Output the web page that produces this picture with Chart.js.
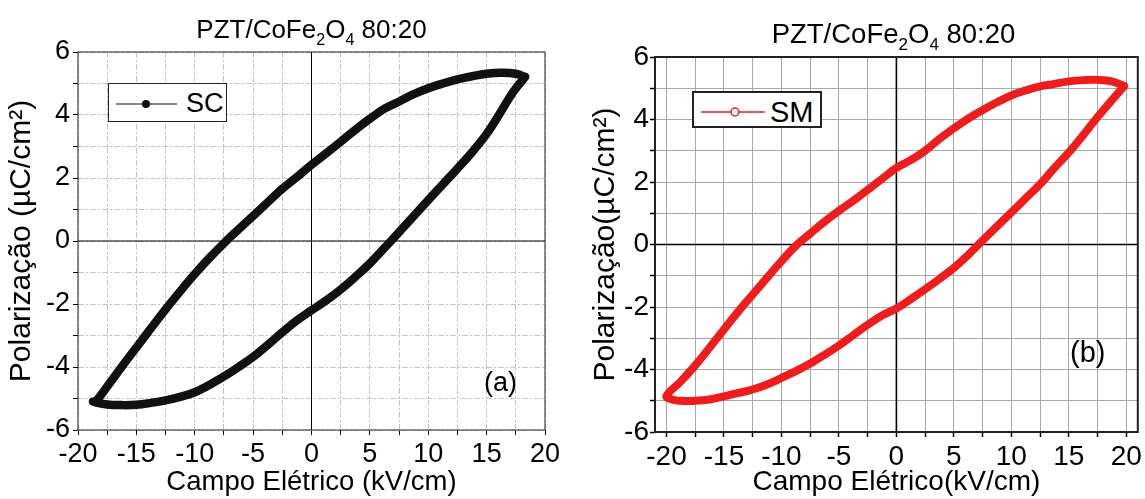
<!DOCTYPE html>
<html>
<head>
<meta charset="utf-8">
<script src="https://cdn.jsdelivr.net/npm/chart.js@4.4.1/dist/chart.umd.min.js"></script>
<style>
  html, body { margin: 0; padding: 0; background: #fff; }
  #wrap { position: relative; width: 1145px; height: 499px; overflow: hidden;
          font-family: "Liberation Sans", Arial, Helvetica, sans-serif; color: #000; }
  #wrap canvas { position: absolute; top: 0; }
  .ov { position: absolute; white-space: nowrap; line-height: 1; }
  .sub { font-size: 0.62em; position: relative; top: 0.45em; }
  .lgbox { position: absolute; box-sizing: border-box; background: #fff; }
</style>
</head>
<body>
<div id="wrap">
  <canvas id="chartA" width="565" height="499" style="left:0px;width:565px;height:499px"></canvas>
  <canvas id="chartB" width="575" height="499" style="left:570px;width:575px;height:499px"></canvas>

  <div class="ov" style="left:78px;width:467px;text-align:center;top:16px;font-size:26px;line-height:26px;">PZT/CoFe<span class="sub">2</span>O<span class="sub">4</span> 80:20</div>
  <div class="ov" style="left:651px;width:485px;text-align:center;top:19.5px;font-size:27.5px;line-height:27.5px;">PZT/CoFe<span class="sub">2</span>O<span class="sub">4</span> 80:20</div>

  <div class="lgbox" style="left:108px;top:83px;width:119px;height:39px;border:1px solid #222;"></div>
  <svg style="position:absolute;left:108px;top:83px" width="119" height="39">
    <line x1="8" y1="21" x2="69" y2="21" stroke="#111" stroke-width="1.2"/>
    <circle cx="38" cy="21" r="4" fill="#111"/>
  </svg>
  <div class="ov" id="legA" style="left:186px;top:90px;font-size:27px;"></div>

  <div class="lgbox" style="left:692px;top:91px;width:130px;height:37px;border:2px solid #222;"></div>
  <svg style="position:absolute;left:692px;top:91px" width="130" height="37">
    <line x1="9" y1="21" x2="73" y2="21" stroke="#ee1c1c" stroke-width="1.4"/>
    <circle cx="43" cy="21" r="4" fill="#fff" stroke="#ee1c1c" stroke-width="1.5"/>
  </svg>
  <div class="ov" id="legB" style="left:770px;top:97.5px;font-size:29px;"></div>

  <div class="ov" style="left:484px;top:368.5px;font-size:27px;">(a)</div>
  <div class="ov" style="left:1070px;top:338.4px;font-size:29px;">(b)</div>
</div>

<script>
// ---------------- data ----------------
const seriesA = 'SC';
const seriesB = 'SM';

// SC loop: upper branch (right tip -> left tip), then lower branch back to right tip
const scField = [18.3, 17.5, 16.25, 15, 13.75, 12.5, 11.25, 10, 8.75, 7.5, 6.25, 5, 3.75, 2.5, 1.25, 0,
                 -1.25, -2.5, -3.75, -5, -6.25, -7.5, -8.75, -10, -11.25, -12.5, -13.75, -15, -16.25, -17.5, -18.4,
                 -18.7, -17.5, -16.25, -15, -13.75, -12.5, -11.25, -10, -8.75, -7.5, -6.25, -5, -3.75, -2.5, -1.25, 0,
                 1.25, 2.5, 3.75, 5, 6.25, 7.5, 8.75, 10, 11.25, 12.5, 13.75, 15, 16.25, 17.25, 18.3];
const scPol   = [5.21, 5.31, 5.34, 5.31, 5.23, 5.13, 5.0, 4.85, 4.66, 4.43, 4.2, 3.88, 3.53, 3.15, 2.78, 2.42,
                 2.03, 1.66, 1.23, 0.8, 0.37, -0.07, -0.54, -1.05, -1.6, -2.17, -2.77, -3.38, -3.99, -4.62, -5.06,
                 -5.1, -5.19, -5.21, -5.2, -5.14, -5.06, -4.95, -4.8, -4.57, -4.3, -4.0, -3.68, -3.3, -2.9, -2.52, -2.2,
                 -1.89, -1.54, -1.14, -0.71, -0.22, 0.28, 0.79, 1.3, 1.8, 2.3, 2.82, 3.4, 4.12, 4.72, 5.21];

// SM loop
const smField = [19.8, 18.75, 17.5, 16.25, 15, 13.75, 12.5, 11.25, 10, 8.75, 7.5, 6.25, 5, 3.75, 2.5, 1.25, 0,
                 -1.25, -2.5, -3.75, -5, -6.25, -7.5, -8.75, -10, -11.25, -12.5, -13.75, -15, -16.25, -17.5, -18.75, -20,
                 -19.5, -18.75, -17.5, -16.25, -15, -13.75, -12.5, -11.25, -10, -8.75, -7.5, -6.25, -5, -3.75, -2.5, -1.25, 0,
                 1.25, 2.5, 3.75, 5, 6.25, 7.5, 8.75, 10, 11.25, 12.5, 13.75, 15, 16.25, 17.5, 18.75, 19.8];
const smPol   = [5.07, 5.22, 5.27, 5.26, 5.22, 5.14, 5.06, 4.93, 4.77, 4.55, 4.3, 4.03, 3.72, 3.38, 3.0, 2.7, 2.45,
                 2.1, 1.75, 1.4, 1.08, 0.73, 0.35, -0.04, -0.53, -1.06, -1.6, -2.14, -2.72, -3.3, -3.87, -4.38, -4.85,
                 -4.96, -5.0, -5.0, -4.96, -4.86, -4.75, -4.64, -4.48, -4.27, -4.05, -3.81, -3.53, -3.23, -2.9, -2.57, -2.27, -2.05,
                 -1.75, -1.43, -1.1, -0.75, -0.33, 0.13, 0.58, 1.03, 1.48, 1.93, 2.45, 2.95, 3.5, 4.08, 4.62, 5.07];

// tick positions / labels
const xTickValues  = [-20, -17.5, -15, -12.5, -10, -7.5, -5, -2.5, 0, 2.5, 5, 7.5, 10, 12.5, 15, 17.5, 20];
const xLabelValues = [-20, -15, -10, -5, 0, 5, 10, 15, 20];
const yTickValues  = [-6, -5, -4, -3, -2, -1, 0, 1, 2, 3, 4, 5, 6];
const yLabelValues = [-6, -4, -2, 0, 2, 4, 6];

const xTitleA = 'Campo Elétrico (kV/cm)';
const xTitleB = 'Campo Elétrico(kV/cm)';
const yTitleA = 'Polarização (µC/cm²)';
const yTitleB = 'Polarização(µC/cm²)';

document.getElementById('legA').textContent = seriesA;
document.getElementById('legB').textContent = seriesB;

// ---------------- chart setup ----------------
const FONT = '"Liberation Sans", Arial, Helvetica, sans-serif';
Chart.defaults.font.family = FONT;
Chart.defaults.color = '#000';

const framePlugin = {
  id: 'frame',
  beforeDatasetsDraw(chart, args, opts) {
    const {ctx, chartArea: a, scales} = chart;
    const px = scales.x.getPixelForValue(0);
    const py = scales.y.getPixelForValue(0);
    ctx.save();
    ctx.strokeStyle = opts.zeroColor;
    ctx.lineWidth = opts.zeroWidth;
    ctx.beginPath();
    ctx.moveTo(px, a.top); ctx.lineTo(px, a.bottom);
    ctx.moveTo(a.left, py); ctx.lineTo(a.right, py);
    ctx.stroke();
    ctx.restore();
  },
  afterDraw(chart, args, opts) {
    const {ctx, chartArea: a} = chart;
    ctx.save();
    ctx.strokeStyle = opts.color;
    ctx.lineWidth = opts.width;
    ctx.strokeRect(a.left, a.top, a.right - a.left, a.bottom - a.top);
    ctx.restore();
  }
};

function toPoints(xs, ys) { return xs.map((x, i) => ({x: x, y: ys[i]})); }

function makeChart(id, cfg) {
  return new Chart(document.getElementById(id), {
    type: 'scatter',
    data: {
      datasets: [{
        label: cfg.label,
        data: toPoints(cfg.xs, cfg.ys),
        showLine: true,
        borderColor: cfg.color,
        backgroundColor: cfg.color,
        borderWidth: cfg.lineWidth,
        pointRadius: 0,
        tension: 0.4,
        borderJoinStyle: 'round',
        borderCapStyle: 'round'
      }]
    },
    options: {
      responsive: false,
      animation: false,
      devicePixelRatio: 1,
      layout: { padding: cfg.padding },
      plugins: {
        legend: { display: false },
        tooltip: { enabled: false },
        frame: { color: cfg.frameColor, width: cfg.frameWidth, zeroColor: '#000', zeroWidth: cfg.zeroWidth }
      },
      scales: {
        x: {
          type: 'linear',
          min: cfg.xMin, max: cfg.xMax,
          afterBuildTicks: s => { s.ticks = xTickValues.map(v => ({value: v})); },
          afterFit: s => { s.height = cfg.xAxisHeight; },
          ticks: {
            autoSkip: false, maxRotation: 0, minRotation: 0,
            padding: cfg.xTickPad,
            font: { size: cfg.tickSize, lineHeight: 1.2 },
            color: '#000',
            callback: v => xLabelValues.includes(v) ? String(v) : ''
          },
          grid: {
            color: cfg.gridColor, lineWidth: 1,
            drawTicks: true, tickLength: 5, tickColor: '#000', tickWidth: cfg.tickWidth
          },
          border: { display: false, dash: cfg.gridDash },
          title: {
            display: true, text: cfg.xTitle, color: '#000',
            font: { size: cfg.xTitleSize, lineHeight: 1.2 },
            padding: { top: 0, bottom: 0 }
          }
        },
        y: {
          type: 'linear',
          min: -6, max: 6,
          afterBuildTicks: s => { s.ticks = yTickValues.map(v => ({value: v})); },
          afterFit: s => { s.width = cfg.yAxisWidth; },
          ticks: {
            autoSkip: false,
            padding: cfg.yTickPad,
            font: { size: cfg.tickSize, lineHeight: 1.2 },
            color: '#000',
            callback: v => yLabelValues.includes(v) ? String(v) : ''
          },
          grid: {
            color: cfg.gridColor, lineWidth: 1,
            drawTicks: true, tickLength: 5, tickColor: '#000', tickWidth: cfg.tickWidth
          },
          border: { display: false, dash: cfg.gridDash },
          title: {
            display: true, text: cfg.yTitle, color: '#000',
            font: { size: cfg.yTitleSize, lineHeight: 1.2 },
            padding: { top: cfg.yTitlePad, bottom: 0 }
          }
        }
      }
    },
    plugins: [framePlugin]
  });
}

makeChart('chartA', {
  label: seriesA, xs: scField, ys: scPol, color: '#111111', lineWidth: 8.5,
  padding: { left: 0, right: 20, top: 52, bottom: 0 },
  xMin: -20, xMax: 20, xAxisHeight: 69, yAxisWidth: 78,
  tickSize: 27, xTickPad: 3, yTickPad: 3, tickWidth: 1,
  gridColor: '#c4c4c4', gridDash: [6, 2, 2, 2],
  frameColor: '#222', frameWidth: 1, zeroWidth: 1,
  xTitle: xTitleA, xTitleSize: 27.5, yTitle: yTitleA, yTitleSize: 30, yTitlePad: 4
});

makeChart('chartB', {
  label: seriesB, xs: smField, ys: smPol, color: '#ee1c1c', lineWidth: 8,
  padding: { left: 0, right: 5, top: 57, bottom: 0 },
  xMin: -21, xMax: 21, xAxisHeight: 67, yAxisWidth: 85,
  tickSize: 28, xTickPad: 3, yTickPad: 1, tickWidth: 1.5,
  gridColor: '#a8a8a8', gridDash: [],
  frameColor: '#222', frameWidth: 2, zeroWidth: 1.6,
  xTitle: xTitleB, xTitleSize: 28, yTitle: yTitleB, yTitleSize: 30, yTitlePad: 18
});
</script>
</body>
</html>
